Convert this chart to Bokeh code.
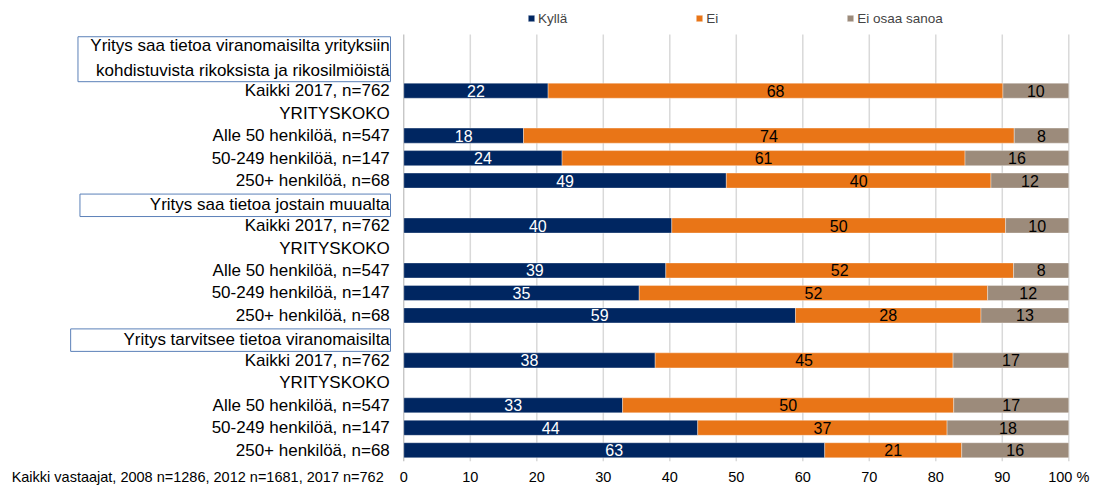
import numpy as np
from bokeh.plotting import figure
from bokeh.models import Range1d, FixedTicker, Legend, LegendItem
from bokeh.core.properties import value
from bokeh.embed import file_html
from bokeh.resources import INLINE

# ---------------- data ----------------
groups = [
    "Yritys saa tietoa viranomaisilta yrityksiin\nkohdistuvista rikoksista ja rikosilmiöistä",
    "Yritys saa tietoa jostain muualta",
    "Yritys tarvitsee tietoa viranomaisilta",
]
subgroups = ["Kaikki 2017, n=762", "YRITYSKOKO", "Alle 50 henkilöä, n=547",
             "50-249 henkilöä, n=147", "250+ henkilöä, n=68"]
series = ["Kyllä", "Ei", "Ei osaa sanoa"]

kylla = [21.7, 18.0, 23.8, 48.5, 40.3, 39.4, 35.4, 58.9, 37.8, 32.9, 44.2, 63.3]
ei = [68.4, 73.8, 60.6, 39.8, 50.2, 52.3, 52.4, 27.9, 44.8, 49.8, 37.5, 20.6]
eos = [9.9, 8.2, 15.6, 11.7, 9.5, 8.3, 12.2, 13.2, 17.4, 17.3, 18.3, 16.1]
kylla_lbl = [22, 18, 24, 49, 40, 39, 35, 59, 38, 33, 44, 63]
ei_lbl = [68, 74, 61, 40, 50, 52, 52, 28, 45, 50, 37, 21]
eos_lbl = [10, 8, 16, 12, 10, 8, 12, 13, 17, 17, 18, 16]

xticks = [0, 10, 20, 30, 40, 50, 60, 70, 80, 90, 100]
footnote = "Kaikki vastaajat, 2008 n=1286, 2012 n=1681, 2017 n=762"

colors = ["#002661", "#E97517", "#9C8B7B"]
FONT = "Liberation Sans"

# ---------------- layout of rows ----------------
header_rows = [2, 1, 1]
label_text, label_y = [], []
box_top, box_bot = [], []
bar_y = []
row = 0
for g, hr in zip(groups, header_rows):
    box_top.append(row + 0.1)
    box_bot.append(row + hr + 0.1)
    label_text.append(g)
    label_y.append(row + hr / 2 + 0.05)
    row += hr
    for s in subgroups:
        label_text.append(s)
        label_y.append(row + 0.5)
        if s != "YRITYSKOKO":
            bar_y.append(row + 0.5)
        row += 1
NROWS = row  # 19

FOOT_X = -31.0  # centre of the footnote, in axis units

p = figure(frame_width=1099, frame_height=461, output_backend="svg", toolbar_location=None,
           x_range=Range1d(-60.65, 104.62), y_range=Range1d(NROWS, -1.513),
           min_border_left=0, min_border_right=0, min_border_top=0, min_border_bottom=0)
p.outline_line_color = None
p.xgrid.visible = False
p.ygrid.visible = False
p.yaxis.visible = False

ax = p.xaxis[0]
ax.ticker = FixedTicker(ticks=[FOOT_X] + xticks)
ax.major_label_overrides = {100: "100 %", FOOT_X: footnote}
ax.axis_line_color = None
ax.major_tick_line_color = None
ax.minor_tick_line_color = None
ax.major_tick_out = 0
ax.major_tick_in = 0
ax.major_label_standoff = 7
ax.major_label_text_font = FONT
ax.major_label_text_font_size = "14.5px"
ax.major_label_text_color = "#000000"

# gridlines
gx = [t for t in xticks if t != 0]
p.segment(x0=gx, y0=[0] * len(gx), x1=gx, y1=[NROWS] * len(gx),
          line_color="#d9d9d9", line_width=1.5)
p.segment(x0=[0], y0=[0], x1=[0], y1=[NROWS], line_color="#b0b0b0", line_width=1)

# stacked bars
k = np.array(kylla); e = np.array(ei); o = np.array(eos)
lefts = [np.zeros_like(k), k, k + e]
rights = [k, k + e, k + e + o]
renderers = []
for i in range(3):
    r = p.hbar(y=bar_y, left=lefts[i], right=rights[i], height=0.67,
               fill_color=colors[i], line_color="#ffffff", line_alpha=0.35, line_width=1)
    renderers.append(r)

# value labels
lbls = [kylla_lbl, ei_lbl, eos_lbl]
tcol = ["#ffffff", "#000000", "#000000"]
for i in range(3):
    mids = (lefts[i] + rights[i]) / 2
    p.text(x=mids, y=bar_y, text=[str(v) for v in lbls[i]], text_align="center",
           text_baseline="middle", text_font=value(FONT), text_font_size="16px",
           text_color=tcol[i])

# header boxes
box_left = [-49.0, -48.7, -50.1]
p.quad(left=box_left, right=[-2.0] * 3, top=box_top, bottom=box_bot,
       fill_color=None, line_color="#5b80b8", line_width=1)

# category labels
p.text(x=[0] * len(label_text), y=label_y, text=label_text, x_offset=-14,
       text_align="right", text_baseline="middle", text_font=value(FONT),
       text_font_size="17px", text_color="#000000", text_line_height=1.28)

# legend
legend = Legend(items=[LegendItem(label=s, renderers=[r]) for s, r in zip(series, renderers)],
                orientation="horizontal", location=(527, 435),
                glyph_width=8, glyph_height=8, label_standoff=3, spacing=128,
                label_text_font=FONT, label_text_font_size="13.5px",
                background_fill_alpha=0, border_line_color=None, padding=0, margin=0,
                label_height=16, label_width=8)
p.add_layout(legend)

open("out.html", "w").write(file_html(p, INLINE))
